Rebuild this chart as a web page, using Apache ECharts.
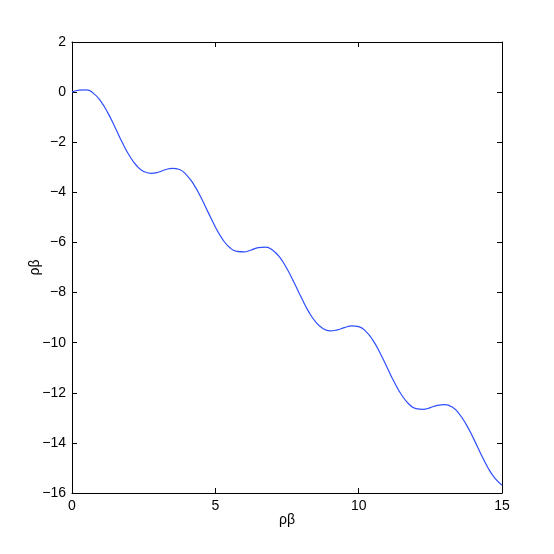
<!DOCTYPE html>
<html>
<head>
<meta charset="utf-8">
<script src="https://cdn.jsdelivr.net/npm/echarts@6/dist/echarts.min.js"></script>
<style>
  html, body { margin: 0; padding: 0; background: #fff; }
  #chart { width: 554px; height: 554px; }
</style>
</head>
<body>
<div id="chart"></div>
<script>
// values
const xValues = [0, 0.25, 0.5, 0.75, 1, 1.25, 1.5, 1.75, 2, 2.25, 2.5, 2.75, 3, 3.25, 3.5, 3.75,
  4, 4.25, 4.5, 4.75, 5, 5.25, 5.5, 5.75, 6, 6.25, 6.5, 6.75, 7, 7.25, 7.5, 7.75,
  8, 8.25, 8.5, 8.75, 9, 9.25, 9.5, 9.75, 10, 10.25, 10.5, 10.75, 11, 11.25, 11.5, 11.75,
  12, 12.25, 12.5, 12.75, 13, 13.25, 13.5, 13.75, 14, 14.25, 14.5, 14.75, 15]
const yValues = [0, 0.08, 0.09, -0.05, -0.36, -0.83, -1.4, -2.0, -2.53, -2.93, -3.17, -3.24, -3.2, -3.1, -3.04, -3.09,
  -3.31, -3.69, -4.21, -4.8, -5.38, -5.87, -6.2, -6.36, -6.38, -6.3, -6.21, -6.19, -6.31, -6.6, -7.05, -7.61,
  -8.2, -8.75, -9.17, -9.43, -9.53, -9.49, -9.4, -9.33, -9.36, -9.55, -9.91, -10.42, -11.01, -11.59, -12.09, -12.45,
  -12.63, -12.66, -12.59, -12.5, -12.47, -12.56, -12.83, -13.26, -13.81, -14.41, -14.97, -15.41, -15.69]
const xTicks = [0, 5, 10, 15]
const yTicks = [-16, -14, -12, -10, -8, -6, -4, -2, 0, 2]

const points = xValues.map((x, i) => [x, yValues[i]])
const fmt = v => (v < 0 ? '\u2212' + Math.abs(v) : String(v))
const font = { fontFamily: 'Liberation Sans', fontSize: 14, color: '#000' }

const chart = echarts.init(document.getElementById('chart'))
const axisBase = {
  type: 'value',
  axisLine: { show: true, onZero: false, lineStyle: { color: '#000', width: 1 } },
  axisTick: { show: true, inside: true, length: 5, lineStyle: { color: '#000' } },
  splitLine: { show: false }
}
const option = {
  animation: false,
  grid: { left: 72, right: 52, top: 42, bottom: 61 },
  xAxis: [
    Object.assign({}, axisBase, {
      min: xTicks[0], max: xTicks[xTicks.length - 1], interval: 5,
      position: 'bottom',
      axisLabel: Object.assign({ margin: 6, formatter: fmt }, font),
      name: 'ρβ', nameLocation: 'middle', nameGap: 20, nameMoveOverlap: false,
      nameTextStyle: font
    }),
    Object.assign({}, axisBase, {
      min: xTicks[0], max: xTicks[xTicks.length - 1], interval: 5,
      position: 'top', axisLabel: { show: false }
    })
  ],
  yAxis: [
    Object.assign({}, axisBase, {
      min: yTicks[0], max: yTicks[yTicks.length - 1], interval: 2,
      position: 'left',
      axisLabel: Object.assign({ margin: 6, formatter: fmt }, font),
      name: 'ρβ', nameLocation: 'middle', nameGap: 30, nameRotate: 90, nameMoveOverlap: false,
      nameTextStyle: font
    }),
    Object.assign({}, axisBase, {
      min: yTicks[0], max: yTicks[yTicks.length - 1], interval: 2,
      position: 'right', axisLabel: { show: false }
    })
  ],
  series: [
    {
      type: 'line',
      data: points,
      smooth: true,
      showSymbol: false,
      lineStyle: { color: '#2f4fff', width: 1.2 }
    }
  ]
}
chart.setOption(option)
</script>
</body>
</html>
